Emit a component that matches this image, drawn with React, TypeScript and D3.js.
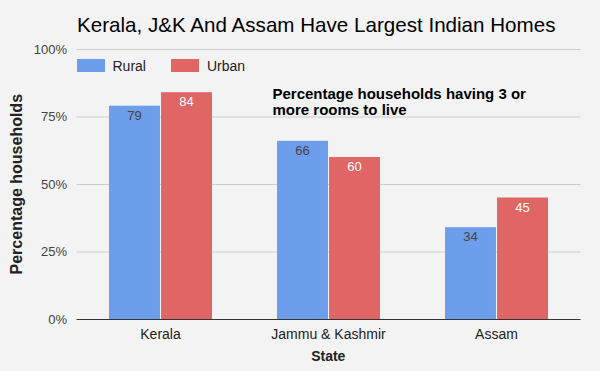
import React from "react";
import * as d3 from "d3";

const categories = ["Kerala", "Jammu & Kashmir", "Assam"];
const seriesNames = ["Rural", "Urban"];
const rural = [79, 66, 34];
const urban = [84, 60, 45];
const yTicks = [0, 25, 50, 75, 100];
const colors = ["#6d9eeb", "#e06666"];
const labelColors = ["#444444", "#ffffff"];

export default function App() {
  const W = 600, H = 371;
  const left = 76.5, right = 580.5, top = 49, bottom = 319;
  const x = d3.scaleBand<string>().domain(categories).range([left, right]).paddingInner(0).paddingOuter(0);
  const y = d3.scaleLinear().domain([0, 100]).range([bottom, top]);
  const groupW = 103;
  const inner = d3.scaleBand<string>().domain(seriesNames).range([0, groupW]).paddingInner(0.02);
  const series = [rural, urban];
  const font = "'Liberation Sans', Arial, sans-serif";
  return (
    <svg width={W} height={H} style={{ position: "absolute", left: 0, top: 0, display: "block" }} fontFamily={font}>
      <rect width={W} height={H} fill="#f3f3f3" />
      <text x={77} y={31.5} fontSize={20.6} fill="#000">Kerala, J&amp;K And Assam Have Largest Indian Homes</text>
      {yTicks.map((t) => (
        <g key={t}>
          {t > 0 && <line x1={left} x2={right} y1={y(t) + 0.5} y2={y(t) + 0.5} stroke="#cccccc" strokeWidth={1} />}
          <text x={67} y={y(t) + 4.5} textAnchor="end" fontSize={13} fill="#444">{t}%</text>
        </g>
      ))}
      {categories.map((c, i) => {
        const gx = (x(c) as number) + x.bandwidth() / 2 - groupW / 2;
        return (
          <g key={c}>
            {seriesNames.map((s, j) => {
              const v = series[j][i];
              const bx = gx + (inner(s) as number);
              const bw = inner.bandwidth();
              return (
                <g key={s}>
                  <rect x={bx} y={y(v)} width={bw} height={bottom - y(v)} fill={colors[j]} />
                  <text x={bx + bw / 2} y={y(v) + 14} textAnchor="middle" fontSize={13} fill={labelColors[j]}>{v}</text>
                </g>
              );
            })}
            <text x={(x(c) as number) + x.bandwidth() / 2} y={339} textAnchor="middle" fontSize={14} fill="#222">{c}</text>
          </g>
        );
      })}
      <line x1={left} x2={right} y1={bottom + 0.5} y2={bottom + 0.5} stroke="#333" strokeWidth={1} />
      {seriesNames.map((s, j) => (
        <g key={s}>
          <rect x={77 + j * 94} y={59} width={28} height={13} fill={colors[j]} />
          <text x={112.5 + j * 94.5} y={71} fontSize={14} fill="#222">{s}</text>
        </g>
      ))}
      <text x={272.5} y={98.5} fontSize={15} fontWeight="bold" fill="#000">
        <tspan x={272.5}>Percentage households having 3 or</tspan>
        <tspan x={272.5} dy={16}>more rooms to live</tspan>
      </text>
      <text transform={`translate(21.7,184.2) rotate(-90)`} textAnchor="middle" fontSize={16} fontWeight="bold" fill="#222">Percentage households</text>
      <text x={328.3} y={360.5} textAnchor="middle" fontSize={14} fontWeight="bold" fill="#222">State</text>
    </svg>
  );
}
